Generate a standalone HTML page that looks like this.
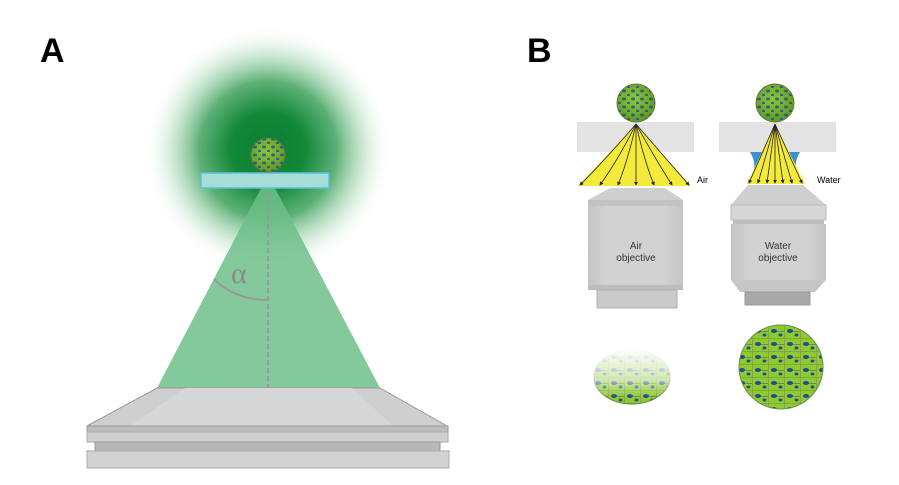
<!DOCTYPE html>
<html><head><meta charset="utf-8"><style>html,body{margin:0;padding:0;background:#fff}svg{display:block}</style></head><body>
<svg width="899" height="485" viewBox="0 0 899 485" xmlns="http://www.w3.org/2000/svg" font-family="Liberation Sans, sans-serif">
<defs>
<radialGradient id="glow" cx="0.5" cy="0.5" r="0.5">
<stop offset="0" stop-color="#0c7f33"/><stop offset="0.3" stop-color="#128838"/><stop offset="0.55" stop-color="#3fa25e" stop-opacity="0.85"/><stop offset="0.78" stop-color="#9fd4ad" stop-opacity="0.45"/><stop offset="1" stop-color="#fff" stop-opacity="0"/></radialGradient>
<radialGradient id="cell" cx="0.45" cy="0.4" r="0.6"><stop offset="0" stop-color="#8cc63f"/><stop offset="1" stop-color="#5f9a25"/></radialGradient>
<linearGradient id="fade" x1="0" y1="0" x2="0" y2="1"><stop offset="0" stop-color="#fff" stop-opacity="1"/><stop offset="0.55" stop-color="#fff" stop-opacity="0.6"/><stop offset="0.85" stop-color="#fff" stop-opacity="0"/></linearGradient>
<linearGradient id="obj" x1="0" y1="0" x2="1" y2="0"><stop offset="0" stop-color="#c4c4c4"/><stop offset="0.2" stop-color="#d2d2d2"/><stop offset="0.8" stop-color="#d2d2d2"/><stop offset="1" stop-color="#c4c4c4"/></linearGradient>
<pattern id="dots" width="9" height="8" patternUnits="userSpaceOnUse"><ellipse cx="3" cy="3" rx="2" ry="1.5" fill="#1d4f8a"/><ellipse cx="7.5" cy="7" rx="1.6" ry="1.2" fill="#1d4f8a"/></pattern>
<pattern id="cells" width="16" height="13" patternUnits="userSpaceOnUse"><rect width="16" height="13" fill="#8fca2e"/><path d="M0 0H16M0 0V13M8 6.5H16" stroke="#6f8a55" stroke-width="1"/><ellipse cx="6" cy="6" rx="3" ry="2" fill="#1d4f8a"/><ellipse cx="12.5" cy="10" rx="2" ry="1.5" fill="#1d4f8a"/></pattern>
<marker id="ar" markerWidth="5" markerHeight="5" refX="4" refY="2.5" orient="auto"><path d="M0 0L5 2.5L0 5z" fill="#222"/></marker>
</defs>
<text x="40" y="62" font-size="34" font-weight="bold">A</text>
<text x="527" y="62" font-size="34" font-weight="bold">B</text>
<!-- Panel A -->
<circle cx="268" cy="150" r="125" fill="url(#glow)"/>
<polygon points="268,175 157,388 380,388" fill="#6fc08a" opacity="0.85"/>
<line x1="268" y1="176" x2="268" y2="388" stroke="#999" stroke-width="2" stroke-dasharray="5,3"/>
<path d="M214 279 Q235 300 268 300" fill="none" stroke="#999" stroke-width="2"/>
<text x="231" y="283" font-size="30" fill="#8a8a8a" font-family="Liberation Serif, serif">α</text>
<rect x="201" y="173" width="128" height="15" fill="#a6ddd6" stroke="#5bbde0" stroke-width="1.5"/>
<circle cx="268" cy="155" r="17" fill="url(#cell)" stroke="#6a7a3a"/>
<circle cx="268" cy="155" r="17" fill="url(#dots)" opacity="0.8"/>
<polygon points="157,388 380,388 447,426 87,426" fill="#cfcfcf" stroke="#999" stroke-width="1"/>
<polygon points="185,388 352,388 393,426 130,426" fill="#d6d6d6"/>
<rect x="87" y="426" width="361" height="6" fill="#bdbdbd" stroke="#999" stroke-width="1"/>
<rect x="87" y="432" width="361" height="10" fill="#d0d0d0" stroke="#aaa" stroke-width="1"/>
<rect x="95" y="442" width="345" height="9" fill="#b8b8b8" stroke="#999" stroke-width="1"/>
<rect x="87" y="451" width="362" height="17" fill="#d2d2d2" stroke="#aaa" stroke-width="1"/>
<!-- Panel B air -->
<rect x="577" y="122" width="117" height="30" fill="#e3e3e3"/>
<polygon points="636,124 578,186 691,186" fill="#f3ea3a"/>
<g stroke="#222" stroke-width="0.8" fill="none" marker-end="url(#ar)">
<path d="M636 124 Q605 160 580 185"/><path d="M636 124 Q618 160 600 185"/><path d="M636 124 Q628 160 618 185"/><path d="M636 124 L636 185"/><path d="M636 124 Q644 160 654 185"/><path d="M636 124 Q656 160 672 185"/><path d="M636 124 Q667 160 689 185"/></g>
<circle cx="636" cy="103" r="19" fill="url(#cell)" stroke="#6a7a3a"/>
<circle cx="636" cy="103" r="19" fill="url(#dots)" opacity="0.8"/>
<text x="697" y="183" font-size="9">Air</text>
<polygon points="610,188 665,188 683,200 588,200" fill="#cfcfcf"/>
<rect x="588" y="200" width="95" height="6" fill="#c2c2c2"/>
<rect x="588" y="206" width="95" height="84" fill="url(#obj)"/>
<rect x="588" y="285" width="95" height="5" fill="#bdbdbd"/>
<rect x="597" y="290" width="80" height="18" fill="#cacaca" stroke="#b0b0b0"/>
<text x="636" y="249" font-size="10" text-anchor="middle" fill="#333">Air</text>
<text x="636" y="261" font-size="10" text-anchor="middle" fill="#333">objective</text>
<!-- Panel B water -->
<rect x="719" y="122" width="117" height="30" fill="#e3e3e3"/>
<path d="M750 152 L800 152 Q790 168 803 184 L747 184 Q760 168 750 152Z" fill="#3a8fd6"/>
<polygon points="775,124 747,184 805,184" fill="#f3ea3a"/>
<g stroke="#222" stroke-width="0.8" fill="none" marker-end="url(#ar)">
<line x1="775" y1="124" x2="749" y2="183"/><line x1="775" y1="124" x2="758" y2="183"/><line x1="775" y1="124" x2="767" y2="183"/><line x1="775" y1="124" x2="775" y2="183"/><line x1="775" y1="124" x2="783" y2="183"/><line x1="775" y1="124" x2="792" y2="183"/><line x1="775" y1="124" x2="802" y2="183"/></g>
<circle cx="775" cy="103" r="19" fill="url(#cell)" stroke="#6a7a3a"/>
<circle cx="775" cy="103" r="19" fill="url(#dots)" opacity="0.8"/>
<text x="817" y="183" font-size="9">Water</text>
<polygon points="748,185 803,185 826,205 731,205" fill="#cfcfcf"/>
<rect x="731" y="205" width="95" height="15" fill="#d6d6d6" stroke="#bbb"/>
<rect x="733" y="220" width="91" height="4" fill="#bdbdbd"/>
<rect x="731" y="224" width="95" height="56" fill="url(#obj)"/>
<polygon points="731,280 826,280 815,292 740,292" fill="#c6c6c6"/>
<rect x="745" y="292" width="65" height="13" fill="#a8a8a8" stroke="#999"/>
<text x="778" y="249" font-size="10" text-anchor="middle" fill="#333">Water</text>
<text x="778" y="261" font-size="10" text-anchor="middle" fill="#333">objective</text>
<!-- spheroids -->
<ellipse cx="632" cy="377" rx="38" ry="27" fill="url(#cells)" stroke="#6a8a50"/>
<ellipse cx="632" cy="377" rx="40" ry="29" fill="url(#fade)"/>
<circle cx="781" cy="367" r="42" fill="url(#cells)" stroke="#6a8a50"/>
</svg>
</body></html>
